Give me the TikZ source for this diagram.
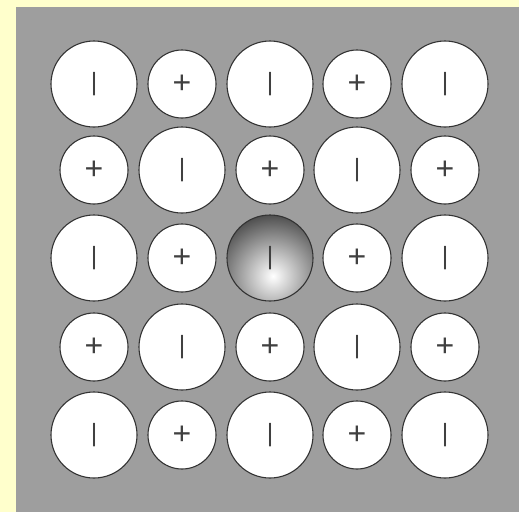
\documentclass[tikz,border=0pt]{standalone}
\usepackage{fontspec}
\setmainfont{Liberation Sans}
\definecolor{pageYellow}{HTML}{FFFFCC}
\definecolor{plateGray}{HTML}{9E9E9E}
\tikzset{
  ion/.style={circle,draw=black!80,line width=1.1pt,fill=white,inner sep=0pt},
  bigIon/.style={ion,minimum size=86pt,font=\fontsize{25}{25}\selectfont\color{black!75}},
  smallIon/.style={ion,minimum size=68pt,font=\fontsize{32}{32}\selectfont\color{black!75}},
  hitIon/.style={bigIon,fill=none},
}
\begin{document}
\begin{tikzpicture}[x=1pt,y=-1pt]
\fill[pageYellow] (0,0) rectangle (519,512);
\fill[plateGray] (16,7) rectangle (519,512);
% shaded ion in the middle
\begin{scope}
  \clip (270,258) circle (43);
  \shade[inner color=white,outer color=black!70] (273,276) circle (62);
\end{scope}
\node[bigIon]   (a1) at (94,84)   {|};
\node[smallIon] (a2) at (182,84)  {+};
\node[bigIon]   (a3) at (270,84)  {|};
\node[smallIon] (a4) at (357,84)  {+};
\node[bigIon]   (a5) at (445,84)  {|};
\node[smallIon] (b1) at (94,170)  {+};
\node[bigIon]   (b2) at (182,170) {|};
\node[smallIon] (b3) at (270,170) {+};
\node[bigIon]   (b4) at (357,170) {|};
\node[smallIon] (b5) at (445,170) {+};
\node[bigIon]   (c1) at (94,258)  {|};
\node[smallIon] (c2) at (182,258) {+};
\node[hitIon]   (c3) at (270,258) {|};
\node[smallIon] (c4) at (357,258) {+};
\node[bigIon]   (c5) at (445,258) {|};
\node[smallIon] (d1) at (94,347)  {+};
\node[bigIon]   (d2) at (182,347) {|};
\node[smallIon] (d3) at (270,347) {+};
\node[bigIon]   (d4) at (357,347) {|};
\node[smallIon] (d5) at (445,347) {+};
\node[bigIon]   (e1) at (94,435)  {|};
\node[smallIon] (e2) at (182,435) {+};
\node[bigIon]   (e3) at (270,435) {|};
\node[smallIon] (e4) at (357,435) {+};
\node[bigIon]   (e5) at (445,435) {|};
\end{tikzpicture}
\end{document}
